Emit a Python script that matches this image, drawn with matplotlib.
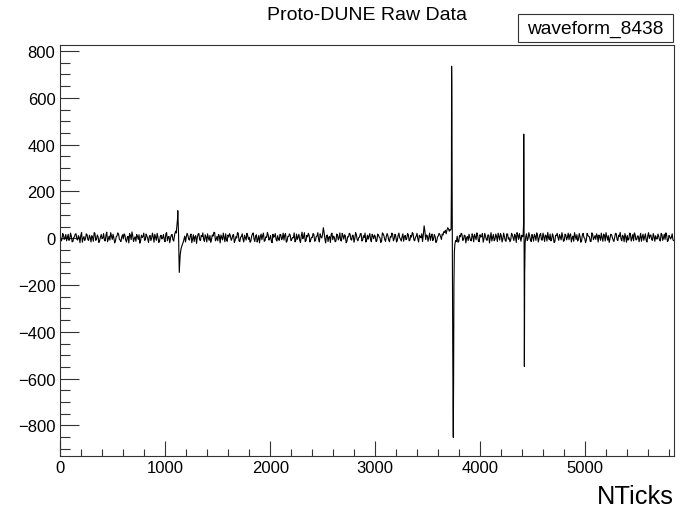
import numpy as np
import matplotlib
matplotlib.use("Agg")
import matplotlib.pyplot as plt
import matplotlib.patches as mpatches
from matplotlib.ticker import MultipleLocator

plt.rcParams["font.family"] = ["Liberation Sans", "DejaVu Sans"]

# ── data: baseline samples every STEP ticks (even / odd samples kept apart),
#    plus finely sampled pulses that replace the baseline inside their windows
STEP = 7.5
noise_even = [
    8, -6, 14, 2, -11, 17, -3, 9, -14, 6, 19, -8, 4, 12, -17, 7, -2, 15, -9, 3,
    11, -13, 21, -4, 6, -10, 16, 1, -7, 13, -15, 9, 24, -5, 2, -12, 10, 18, -8, 5,
    -3, 14, -16, 8, 20, -6, 11, -1, -13, 7, 15, -10, 3, 22, -7, 9, -18, 12, 0, 6,
    17, -9, 5, -14, 13, 2, -5, 19, -11, 8, 1, 16, -12, 4, 10, -7, 23, -3, -15, 9,
    6, 13, -8, 18, -2, -14, 11, 3, 20, -10, 7, -5, 15, -16, 2, 12, -6, 9, 25, -4,
    -11, 8, 14, -7, 3, 19, -13, 5, 10, -2, 16, -9, 1, 21, -14, 7, -4, 13, -8, 11,
    4, -12, 18, -3, 9, -16, 12, 6, -6, 22, -10, 3, 14, -1, -13, 17, 8, -5, 11, -9,
    15, 0, -8, 20, -12, 7, 13, -4, 2, -15, 18, 5, -9, 10, -2, 24, -11, 6, 12, -7,
    3, 16, -10, 9, -5, 19, 1, 45, -3, 11, -14, 8, 17, -6, 4, -12, 14, 2, -9, 21,
    -4, 10, -13, 6, 18, -8, 12, -1, 15, -11, 5, 20, -7, 3, -16, 13, 9, -5, 17, -2,
    7, -10, 14, 1, -12, 19, -6, 8, 11, -15, 4, 16, -3, 10, -9, 22, -4, 6, -13, 12,
    -1, 15, -8, 5, 20, -11, 9, -3, 13, 2, -14, 53, -6, 11, 4, -9, 18, -2, 7, -12,
    10, 16, -5, 14, 25, 19, 45, 30, 12, -8, 15, -3, 9, -14, 6, 18, -7, 11, 2, -10,
    3, -11, 8, 17, -6, 12, -15, 5, 20, -2, 9, -9, 14, 1, -12, 16, -4, 7, 22, -8,
    11, -3, 6, -13, 18, 2, -7, 15, -10, 9, 24, -5, 4, 13, -11, 7, 19, -2, 10, -14,
    5, 17, -9, 12, -1, 20, -8, 6, 14, -12, 3, 18, -5, 9, -15, 11, 2, 16, -7, 8,
    -10, 13, 4, -6, 19, 1, -13, 10, 15, -4, 7, -11, 21, 0, -8, 12, 6, -14, 17, 3,
    -5, 9, 14, -9, 2, 18, -12, 7, 11, -3, 16, -7, 4, 20, -10, 8, -2, 13, -15, 6,
    12, -4, 19, 1, -11, 15, -6, 9, 3, -13, 17, 5, -8, 10, -1, 14, -9, 7, 11, -3,
    8, -12, 16, 2, -5, 13, -10, 6, 4, -7,
]
noise_odd = [
    -12, 20, -5, 16, 4, -9, 22, -15, 3, 18, -4, 11, -19, 25, 0, -10, 19, -6, 13, -16,
    2, 24, -9, 14, -18, 5, -2, 20, -12, 26, -3, -8, 10, 17, -20, 6, 23, -4, -14, 15,
    19, -7, 3, -20, 12, 27, -14, 6, 16, -5, -21, 13, 8, -9, 18, -2, 7, -10, 22, -17,
    4, 21, -18, 9, -3, 16, -15, 24, 5, -19, 14, -6, 20, -11, 3, -8, 12, -5, 6, -16,
    21, -4, 10, -19, 15, 6, -22, 18, -7, 12, 23, -13, 4, 19, -9, -17, 14, 25, -11, 8,
    16, -20, 3, 22, -15, -6, 14, 20, -9, 13, -18, 7, 24, -12, 5, 19, -16, 2, 21, -5,
    -17, 9, 23, -14, 15, -4, -20, 18, 11, -13, 6, 25, -8, 12, -19, 4, 20, -12, -3, 17,
    -6, 22, 13, -17, 8, 19, -10, 3, 23, -9, -5, 17, -18, 26, 7, -14, 12, 21, -16, 4,
    20, -13, 8, 24, -16, 6, 15, 25, -20, 14, 5, -18, 22, 9, -15, 18, -7, 23, -12, 10,
    15, -19, 7, 21, -5, 13, -17, 24, -6, 3, 19, -12, 11, 22, -8, -4, 20, -15, 9, 14,
    -14, 18, 5, -18, 23, 10, -13, 20, -7, 6, 22, -11, 17, -16, 13, 2, -12, 19, 8, -6,
    20, -11, 12, 24, -7, 4, 21, -16, 6, 19, 15, 30, 14, -13, 22, 8, -10, 16, -18, 5,
    21, 6, 18, 28, 34, 35, 40, 38, 20, 5, -12, -14, -17, 12, 21, -9, 13, -20, 7, 17,
    -9, 19, -15, 7, 23, -12, 15, 8, -17, 21, -6, 14, -20, 24, 4, -11, 18, -14, 6, 20,
    -16, 22, -9, 19, -4, -15, 21, 3, 17, -18, 12, 20, -13, 6, 23, 5, -10, 24, -7, 16,
    -12, 9, 23, -16, 15, -7, 22, -14, 10, 25, -6, -11, 19, -18, 13, 21, -9, 4, 24, -13,
    18, -7, 22, 14, -16, 9, 24, -5, -12, 20, -17, 15, 3, -19, 21, 8, -14, 23, -6, 11,
    19, -16, 6, 22, -13, 11, 24, -8, -18, 17, 4, -14, 21, -5, 13, 25, -11, 7, 20, -17,
    -8, 22, -12, 16, 23, -7, 10, -15, 21, 6, -9, 19, -16, 24, 12, -6, 20, -13, -2, 18,
    -7, 21, -9, 17, 23, -14, 12, -3, 19, -10,
]

pulse_windows = [(1085, 1180), (3715, 3770), (4405, 4430)]
pulse_ticks = [
    1090, 1098, 1104, 1109, 1113, 1116, 1119, 1122, 1126, 1130, 1133, 1137, 1142, 1150, 1160, 1172,
    3718, 3722, 3725, 3727, 3729, 3731, 3734, 3737, 3740, 3743, 3746, 3749, 3753, 3758, 3765,
    4408, 4412, 4414, 4416, 4418, 4420, 4423, 4427,
]
pulse_vals = [
    18, 30, 22, 45, 60, 80, 118, 75, 20, -70, -146, -110, -70, -45, -30, -15,
    35, 40, 230, 735, 630, 300, -50, -400, -700, -851, -600, -200, -60, -25, -10,
    10, 60, 445, 200, -120, -548, -150, -20,
]

base_v = np.empty(len(noise_even) + len(noise_odd))
base_v[0::2] = noise_even
base_v[1::2] = noise_odd
base_t = np.arange(len(base_v)) * STEP
keep = np.ones(len(base_t), dtype=bool)
for lo, hi in pulse_windows:
    keep &= ~((base_t >= lo) & (base_t <= hi))
t = np.concatenate([base_t[keep], pulse_ticks])
v = np.concatenate([base_v[keep], pulse_vals])
order = np.argsort(t, kind="stable")
t, v = t[order], v[order]

# ── figure ──────────────────────────────────────────────────────────────
W, H = 684, 510
fig = plt.figure(figsize=(W / 100, H / 100), dpi=100)
left, right, top, bottom = 60.3, 674, 46, 457.3
ax = fig.add_axes([left / W, 1 - bottom / H, (right - left) / W, (bottom - top) / H])

ax.plot(t, v, color="black", linewidth=0.8)
ax.set_xlim(0, 5845)
ax.set_ylim(-932, 826)

ax.xaxis.set_major_locator(MultipleLocator(1000))
ax.xaxis.set_minor_locator(MultipleLocator(200))
ax.yaxis.set_major_locator(MultipleLocator(200))
ax.yaxis.set_minor_locator(MultipleLocator(50))
ax.tick_params(which="both", direction="in", top=False, right=False,
               width=0.8, labelsize=12, color="#333333")
ax.tick_params(axis="x", which="major", length=10.8, pad=3)
ax.tick_params(axis="x", which="minor", length=5)
ax.tick_params(axis="y", which="major", length=13.4, pad=3.5)
ax.tick_params(axis="y", which="minor", length=7)
for sp in ax.spines.values():
    sp.set_linewidth(0.8)
    sp.set_color("#333333")

fig.text(367 / W, 1 - 20 / H, "Proto-DUNE Raw Data", ha="center", va="baseline",
         fontsize=14)
fig.text(right / W, 1 - 509 / H, "NTicks", ha="right", va="bottom", fontsize=18.3)

# stats-box style label
bx0, bx1, by0, by1 = 518, 673, 14.7, 43.3
fig.patches.append(mpatches.Rectangle((bx0 / W, 1 - by1 / H), (bx1 - bx0) / W,
                                      (by1 - by0) / H, transform=fig.transFigure,
                                      facecolor="white", edgecolor="#333333", linewidth=0.8))
fig.text((bx0 + bx1) / 2 / W, 1 - (by0 + by1) / 2 / H, "waveform_8438",
         ha="center", va="center", fontsize=13.8)

fig.savefig("out.png", dpi=100)
